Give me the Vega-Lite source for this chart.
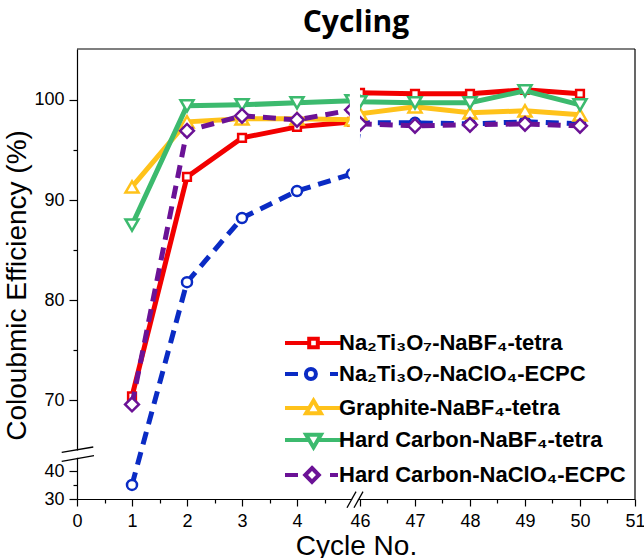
{
  "$schema": "https://vega.github.io/schema/vega-lite/v6.json",
  "width": 558,
  "height": 450,
  "autosize": "none",
  "padding": {"left": 77, "top": 49, "right": 9, "bottom": 59},
  "background": "white",
  "config": {"view": {"stroke": null}},
  "title": {"text": "Cycling", "font": "Open Sans", "fontSize": 30, "fontWeight": "bold", "color": "black", "anchor": "middle", "offset": 10},
  "data": {"values": [
    {"series": "Na₂Ti₃O₇-NaBF₄-tetra", "cycle": 1, "ce": 70.4},
    {"series": "Na₂Ti₃O₇-NaBF₄-tetra", "cycle": 2, "ce": 92.3},
    {"series": "Na₂Ti₃O₇-NaBF₄-tetra", "cycle": 3, "ce": 96.2},
    {"series": "Na₂Ti₃O₇-NaBF₄-tetra", "cycle": 4, "ce": 97.3},
    {"series": "Na₂Ti₃O₇-NaBF₄-tetra", "cycle": 5, "ce": 97.8},
    {"series": "Na₂Ti₃O₇-NaBF₄-tetra", "cycle": 46, "ce": 100.7},
    {"series": "Na₂Ti₃O₇-NaBF₄-tetra", "cycle": 47, "ce": 100.6},
    {"series": "Na₂Ti₃O₇-NaBF₄-tetra", "cycle": 48, "ce": 100.6},
    {"series": "Na₂Ti₃O₇-NaBF₄-tetra", "cycle": 49, "ce": 101.0},
    {"series": "Na₂Ti₃O₇-NaBF₄-tetra", "cycle": 50, "ce": 100.6},
    {"series": "Na₂Ti₃O₇-NaClO₄-ECPC", "cycle": 1, "ce": 35.1},
    {"series": "Na₂Ti₃O₇-NaClO₄-ECPC", "cycle": 2, "ce": 81.8},
    {"series": "Na₂Ti₃O₇-NaClO₄-ECPC", "cycle": 3, "ce": 88.2},
    {"series": "Na₂Ti₃O₇-NaClO₄-ECPC", "cycle": 4, "ce": 90.9},
    {"series": "Na₂Ti₃O₇-NaClO₄-ECPC", "cycle": 5, "ce": 92.6},
    {"series": "Na₂Ti₃O₇-NaClO₄-ECPC", "cycle": 46, "ce": 97.7},
    {"series": "Na₂Ti₃O₇-NaClO₄-ECPC", "cycle": 47, "ce": 97.7},
    {"series": "Na₂Ti₃O₇-NaClO₄-ECPC", "cycle": 48, "ce": 97.6},
    {"series": "Na₂Ti₃O₇-NaClO₄-ECPC", "cycle": 49, "ce": 97.8},
    {"series": "Na₂Ti₃O₇-NaClO₄-ECPC", "cycle": 50, "ce": 97.6},
    {"series": "Graphite-NaBF₄-tetra", "cycle": 1, "ce": 91.3},
    {"series": "Graphite-NaBF₄-tetra", "cycle": 2, "ce": 97.8},
    {"series": "Graphite-NaBF₄-tetra", "cycle": 3, "ce": 98.1},
    {"series": "Graphite-NaBF₄-tetra", "cycle": 4, "ce": 98.1},
    {"series": "Graphite-NaBF₄-tetra", "cycle": 5, "ce": 98.0},
    {"series": "Graphite-NaBF₄-tetra", "cycle": 46, "ce": 98.6},
    {"series": "Graphite-NaBF₄-tetra", "cycle": 47, "ce": 99.3},
    {"series": "Graphite-NaBF₄-tetra", "cycle": 48, "ce": 98.7},
    {"series": "Graphite-NaBF₄-tetra", "cycle": 49, "ce": 98.9},
    {"series": "Graphite-NaBF₄-tetra", "cycle": 50, "ce": 98.5},
    {"series": "Hard Carbon-NaBF₄-tetra", "cycle": 1, "ce": 87.5},
    {"series": "Hard Carbon-NaBF₄-tetra", "cycle": 2, "ce": 99.4},
    {"series": "Hard Carbon-NaBF₄-tetra", "cycle": 3, "ce": 99.5},
    {"series": "Hard Carbon-NaBF₄-tetra", "cycle": 4, "ce": 99.7},
    {"series": "Hard Carbon-NaBF₄-tetra", "cycle": 5, "ce": 99.9},
    {"series": "Hard Carbon-NaBF₄-tetra", "cycle": 46, "ce": 99.8},
    {"series": "Hard Carbon-NaBF₄-tetra", "cycle": 47, "ce": 99.7},
    {"series": "Hard Carbon-NaBF₄-tetra", "cycle": 48, "ce": 99.7},
    {"series": "Hard Carbon-NaBF₄-tetra", "cycle": 49, "ce": 100.9},
    {"series": "Hard Carbon-NaBF₄-tetra", "cycle": 50, "ce": 99.5},
    {"series": "Hard Carbon-NaClO₄-ECPC", "cycle": 1, "ce": 69.6},
    {"series": "Hard Carbon-NaClO₄-ECPC", "cycle": 2, "ce": 96.9},
    {"series": "Hard Carbon-NaClO₄-ECPC", "cycle": 3, "ce": 98.4},
    {"series": "Hard Carbon-NaClO₄-ECPC", "cycle": 4, "ce": 98.0},
    {"series": "Hard Carbon-NaClO₄-ECPC", "cycle": 5, "ce": 99.0},
    {"series": "Hard Carbon-NaClO₄-ECPC", "cycle": 46, "ce": 97.6},
    {"series": "Hard Carbon-NaClO₄-ECPC", "cycle": 47, "ce": 97.4},
    {"series": "Hard Carbon-NaClO₄-ECPC", "cycle": 48, "ce": 97.5},
    {"series": "Hard Carbon-NaClO₄-ECPC", "cycle": 49, "ce": 97.6},
    {"series": "Hard Carbon-NaClO₄-ECPC", "cycle": 50, "ce": 97.4}
  ]},
  "transform": [
    {"calculate": "datum.cycle <= 5 ? datum.cycle : datum.cycle - 40.855", "as": "xpos"},
    {"calculate": "datum.ce >= 50 ? datum.ce : 60.16 + (datum.ce - 30) * 0.2755", "as": "ypos"}
  ],
  "encoding": {
    "x": {
      "field": "xpos", "type": "quantitative",
      "scale": {"domain": [0, 10.145], "nice": false, "zero": false},
      "axis": {
        "title": "Cycle No.",
        "values": [0, 0.5, 1, 1.5, 2, 2.5, 3, 3.5, 4, 4.5, 5.145, 5.645, 6.145, 6.645, 7.145, 7.645, 8.145, 8.645, 9.145, 9.645, 10.145],
        "labelExpr": "((datum.value < 4.9 && abs(datum.value - round(datum.value)) < 0.01) || (datum.value > 5 && abs(datum.value - 0.145 - round(datum.value - 0.145)) < 0.01)) ? format(round(datum.value < 4.9 ? datum.value : datum.value + 40.855), 'd') : ''",
        "tickSize": {"condition": {"test": "(datum.value < 4.9 && abs(datum.value - round(datum.value)) < 0.01) || (datum.value > 5 && abs(datum.value - 0.145 - round(datum.value - 0.145)) < 0.01)", "value": 7}, "value": 4},
        "grid": false, "domainColor": "black", "domainWidth": 1.2, "tickColor": "black", "tickWidth": 1.2,
        "labelFont": "Liberation Sans", "labelFontSize": 18, "labelColor": "black", "labelPadding": 6, "labelFlush": false,
        "titleFont": "Liberation Sans", "titleFontSize": 28, "titleFontWeight": "normal", "titleColor": "black", "titlePadding": 2
      }
    },
    "y": {
      "field": "ypos", "type": "quantitative",
      "scale": {"domain": [60.16, 105.07], "nice": false, "zero": false},
      "axis": {
        "title": "Coloubmic Efficiency (%)",
        "values": [60.16, 61.5375, 62.915, 70, 75, 80, 85, 90, 95, 100],
        "labelExpr": "datum.value > 69 ? (datum.value % 10 === 0 ? format(datum.value, 'd') : '') : (datum.value < 61 ? '30' : (datum.value > 62.5 ? '40' : ''))",
        "tickSize": {"condition": {"test": "(datum.value > 69 && datum.value % 10 === 0) || datum.value < 61 || (datum.value > 62.5 && datum.value < 69)", "value": 8}, "value": 4},
        "grid": false, "domainColor": "black", "domainWidth": 1.2, "tickColor": "black", "tickWidth": 1.2,
        "labelFont": "Liberation Sans", "labelFontSize": 18, "labelColor": "black", "labelPadding": 5, "labelFlush": false,
        "titleFont": "Liberation Sans", "titleFontSize": 28, "titleFontWeight": "normal", "titleColor": "black", "titlePadding": 2, "titleY": 236
      }
    }
  },
  "layer": [
    {
      "transform": [{"filter": "datum.series === 'Na₂Ti₃O₇-NaBF₄-tetra'"}],
      "mark": {"type": "line", "color": "#f20000", "strokeWidth": 5,
        "point": {"shape": "square", "size": 60, "filled": true, "fill": "white", "stroke": "#f20000", "strokeWidth": 2.5, "opacity": 1}}
    },
    {
      "transform": [{"filter": "datum.series === 'Na₂Ti₃O₇-NaClO₄-ECPC'"}],
      "mark": {"type": "line", "color": "#0a2bc4", "strokeWidth": 5, "strokeDash": [13, 8],
        "point": {"shape": "circle", "size": 100, "filled": true, "fill": "white", "stroke": "#0a2bc4", "strokeWidth": 2.5, "opacity": 1}}
    },
    {
      "transform": [{"filter": "datum.series === 'Graphite-NaBF₄-tetra'"}],
      "mark": {"type": "line", "color": "#ffc21a", "strokeWidth": 5,
        "point": {"shape": "triangle-up", "size": 170, "filled": true, "fill": "white", "stroke": "#ffc21a", "strokeWidth": 2.5, "opacity": 1}}
    },
    {
      "transform": [{"filter": "datum.series === 'Hard Carbon-NaBF₄-tetra'"}],
      "mark": {"type": "line", "color": "#3cba6e", "strokeWidth": 5,
        "point": {"shape": "triangle-down", "size": 170, "filled": true, "fill": "white", "stroke": "#3cba6e", "strokeWidth": 2.5, "opacity": 1}}
    },
    {
      "transform": [{"filter": "datum.series === 'Hard Carbon-NaClO₄-ECPC'"}],
      "mark": {"type": "line", "color": "#6b1296", "strokeWidth": 5, "strokeDash": [13, 8],
        "point": {"shape": "diamond", "size": 190, "filled": true, "fill": "white", "stroke": "#6b1296", "strokeWidth": 2.5, "opacity": 1}}
    },
    {
      "transform": [{"filter": "datum.cycle === 1 && datum.series === 'Graphite-NaBF₄-tetra'"}],
      "mark": {"type": "rect", "color": "white", "opacity": 1},
      "encoding": {
        "x": {"datum": 4.96}, "x2": {"datum": 5.145},
        "y": {"datum": 60.4}, "y2": {"datum": 104.9}
      }
    },
    {
      "transform": [{"filter": "datum.cycle === 1 && datum.series === 'Graphite-NaBF₄-tetra'"}],
      "mark": {"type": "rule", "color": "black", "strokeWidth": 1.2},
      "encoding": {
        "x": {"datum": 0}, "x2": {"datum": 10.145},
        "y": {"datum": 105.07}
      }
    },
    {
      "transform": [{"filter": "datum.cycle === 1 && datum.series === 'Graphite-NaBF₄-tetra'"}],
      "mark": {"type": "rule", "color": "black", "strokeWidth": 1.2},
      "encoding": {
        "x": {"datum": 10.145},
        "y": {"datum": 60.16}, "y2": {"datum": 105.07}
      }
    },
    {
      "transform": [{"filter": "datum.cycle === 1 && datum.series === 'Graphite-NaBF₄-tetra'"}],
      "mark": {"type": "rule", "color": "white", "strokeWidth": 7},
      "encoding": {
        "x": {"datum": -0.26}, "x2": {"datum": 0.28},
        "y": {"datum": 64.37}, "y2": {"datum": 64.9}
      }
    },
    {
      "transform": [{"filter": "datum.cycle === 1 && datum.series === 'Graphite-NaBF₄-tetra'"}],
      "mark": {"type": "rule", "color": "black", "strokeWidth": 1.3},
      "encoding": {
        "x": {"datum": -0.278}, "x2": {"datum": 0.296},
        "y": {"datum": 64.81}, "y2": {"datum": 65.35}
      }
    },
    {
      "transform": [{"filter": "datum.cycle === 1 && datum.series === 'Graphite-NaBF₄-tetra'"}],
      "mark": {"type": "rule", "color": "black", "strokeWidth": 1.3},
      "encoding": {
        "x": {"datum": -0.278}, "x2": {"datum": 0.309},
        "y": {"datum": 63.91}, "y2": {"datum": 64.48}
      }
    },
    {
      "transform": [{"filter": "datum.cycle === 1 && datum.series === 'Graphite-NaBF₄-tetra'"}],
      "mark": {"type": "rule", "color": "white", "strokeWidth": 5},
      "encoding": {
        "x": {"datum": 4.99}, "x2": {"datum": 5.12},
        "y": {"datum": 59.5}, "y2": {"datum": 60.7}
      }
    },
    {
      "transform": [{"filter": "datum.cycle === 1 && datum.series === 'Graphite-NaBF₄-tetra'"}],
      "mark": {"type": "rule", "color": "black", "strokeWidth": 1.3},
      "encoding": {
        "x": {"datum": 4.909}, "x2": {"datum": 5.073},
        "y": {"datum": 59.29}, "y2": {"datum": 60.89}
      }
    },
    {
      "transform": [{"filter": "datum.cycle === 1 && datum.series === 'Graphite-NaBF₄-tetra'"}],
      "mark": {"type": "rule", "color": "black", "strokeWidth": 1.3},
      "encoding": {
        "x": {"datum": 5.036}, "x2": {"datum": 5.2},
        "y": {"datum": 59.29}, "y2": {"datum": 60.89}
      }
    },
    {
      "transform": [{"filter": "datum.cycle < 0"}],
      "mark": {"type": "point", "filled": false, "strokeWidth": 4, "opacity": 1},
      "encoding": {
        "color": {
          "field": "series", "type": "nominal",
          "scale": {
            "domain": ["Na₂Ti₃O₇-NaBF₄-tetra", "Na₂Ti₃O₇-NaClO₄-ECPC", "Graphite-NaBF₄-tetra", "Hard Carbon-NaBF₄-tetra", "Hard Carbon-NaClO₄-ECPC"],
            "range": ["#f20000", "#0a2bc4", "#ffc21a", "#3cba6e", "#6b1296"]
          },
          "legend": {
            "title": null, "orient": "none", "legendX": 206, "legendY": 282, "padding": 0,
            "symbolSize": 400, "symbolStrokeWidth": 4, "symbolFillColor": "white", "symbolOpacity": 1,
            "labelFont": "Liberation Sans", "labelFontSize": 22, "labelFontWeight": "bold", "labelColor": "black",
            "labelLimit": 400, "labelOffset": 32, "rowPadding": 4
          }
        },
        "shape": {
          "field": "series", "type": "nominal",
          "scale": {
            "domain": ["Na₂Ti₃O₇-NaBF₄-tetra", "Na₂Ti₃O₇-NaClO₄-ECPC", "Graphite-NaBF₄-tetra", "Hard Carbon-NaBF₄-tetra", "Hard Carbon-NaClO₄-ECPC"],
            "range": [
              "M-1,0H1.42M2.28,0H4.7M1.42,-0.43H2.28V0.43H1.42Z",
              "M-1,0H0.3M3.5,0H4.3M2.09,0A0.5,0.5,0,1,1,1.09,0A0.5,0.5,0,1,1,2.09,0Z",
              "M-1,0H1.42M2.28,0H4.7M1.85,-0.74L2.59,0.52H1.11Z",
              "M-1,0H1.42M2.28,0H4.7M1.85,0.74L2.59,-0.52H1.11Z",
              "M-1,0H0.3M3.5,0H4.3M1.7,-0.7L2.38,0L1.7,0.7L1.02,0Z"
            ]
          },
          "legend": {
            "title": null, "orient": "none", "legendX": 206, "legendY": 282, "padding": 0,
            "symbolSize": 400, "symbolStrokeWidth": 4, "symbolFillColor": "white", "symbolOpacity": 1,
            "labelFont": "Liberation Sans", "labelFontSize": 22, "labelFontWeight": "bold", "labelColor": "black",
            "labelLimit": 400, "labelOffset": 32, "rowPadding": 4
          }
        }
      }
    }
  ]
}
